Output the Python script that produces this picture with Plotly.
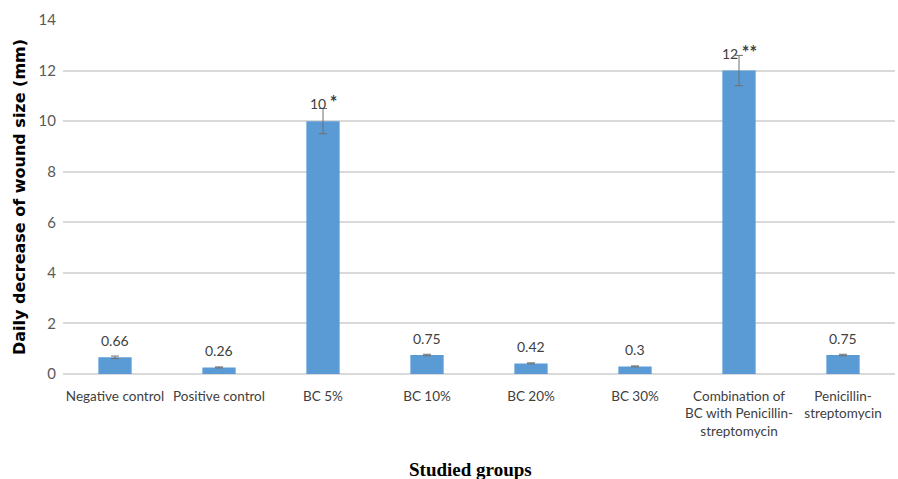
import plotly.graph_objects as go

# Studied groups and their mean daily decrease of wound size (mm)
groups = [
    "Negative control",
    "Positive control",
    "BC 5%",
    "BC 10%",
    "BC 20%",
    "BC 30%",
    "Combination of<br>BC with Penicillin-<br>streptomycin",
    "Penicillin-<br>streptomycin",
]
values = [0.66, 0.26, 10, 0.75, 0.42, 0.3, 12, 0.75]
errors = [0.05, 0.02, 0.5, 0.03, 0.02, 0.02, 0.6, 0.03]
significance = ["", "", "*", "", "", "", "**", ""]
y_ticks = [0, 2, 4, 6, 8, 10, 12, 14]

BAR = "#5B9BD5"
TEXT = "#404040"
TICK = "#595959"
GRID = "#D9D9D9"
SANS = "Lato, Noto Sans, sans-serif"

fig = go.Figure(
    go.Bar(
        x=groups,
        y=values,
        marker=dict(color=BAR, line=dict(width=0)),
        error_y=dict(type="data", array=errors, visible=True,
                     color="#6F6F6F", thickness=1, width=4),
        width=0.32,
    )
)

# Value labels with significance markers
for g, v, s in zip(groups, values, significance):
    label = f"{v:g}"
    if s:
        label += " <span style='font-size:18px'><b>" + s + "</b></span>"
    fig.add_annotation(
        x=g, y=v, text=label, showarrow=False,
        yanchor="bottom", yshift=6,
        font=dict(family=SANS, size=14, color=TEXT),
    )

# X-axis title in serif bold
fig.add_annotation(
    x=0.49, y=-0.235, xref="paper", yref="paper",
    text="<b>Studied groups</b>", showarrow=False,
    xanchor="center", yanchor="top",
    font=dict(family="Liberation Serif, Times New Roman, serif", size=19, color="#000000"),
)

fig.update_layout(
    width=898, height=479,
    margin=dict(l=63, r=3, t=20, b=105),
    paper_bgcolor="white", plot_bgcolor="white",
    showlegend=False,
    font=dict(family=SANS, size=13, color=TICK),
)
fig.update_xaxes(
    showgrid=False, showline=False, zeroline=False,
    ticks="", tickangle=0, automargin=False, ticklabelstandoff=12,
    tickfont=dict(family=SANS, size=13.5, color=TEXT),
)
fig.update_yaxes(
    range=[0, 14], tickvals=y_ticks, automargin=False,
    showgrid=True, gridcolor=GRID, gridwidth=1.5,
    zeroline=True, zerolinecolor=GRID, zerolinewidth=1.5,
    showline=False, ticks="", ticklabelstandoff=6,
    tickfont=dict(family=SANS, size=15, color=TICK),
    title=dict(text="<b>Daily decrease of wound size (mm)</b>",
               font=dict(family="DejaVu Sans, Noto Sans, sans-serif", size=16, color="#000000"),
               standoff=8),
)

fig.write_html("out.html")
